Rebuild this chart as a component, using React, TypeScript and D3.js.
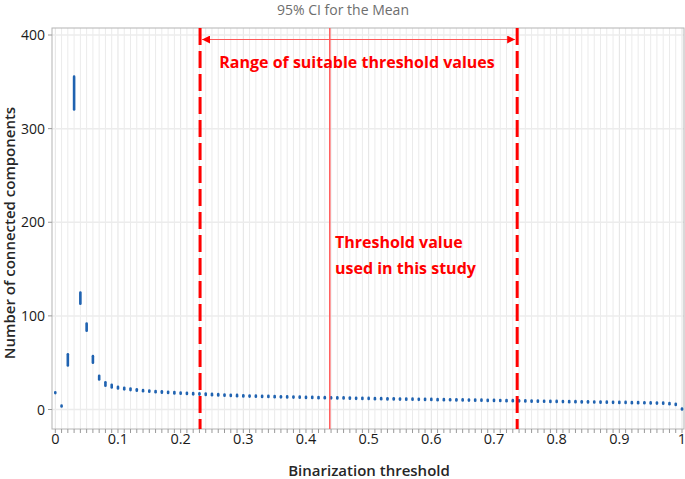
import React from "react";
import * as d3 from "d3";

const thresholds: number[] = d3.range(0, 101).map((i) => i / 100);

const means: number[] = [
  18, 3.7, 53, 338, 119, 88, 53.5, 34, 27.2, 25,
  23.3, 22.3, 21.5, 20.8, 20.2, 19.6, 19.1, 18.7, 18.3, 17.9,
  17.5, 17.2, 16.9, 16.6, 16.3, 16.0, 15.7, 15.4, 15.1, 14.9,
  14.6, 14.4, 14.2, 14.0, 13.9, 13.7, 13.6, 13.4, 13.3, 13.1,
  13.0, 12.9, 12.7, 12.6, 12.5, 12.4, 12.3, 12.2, 12.0, 11.9,
  11.8, 11.6, 11.5, 11.4, 11.3, 11.2, 11.1, 11.0, 10.9, 10.8,
  10.7, 10.6, 10.5, 10.4, 10.3, 10.2, 10.1, 10.0, 9.9, 9.8,
  9.7, 9.6, 9.5, 9.4, 9.3, 9.1, 9.0, 8.9, 8.8, 8.7,
  8.6, 8.5, 8.4, 8.3, 8.2, 8.1, 8.0, 7.9, 7.8, 7.7,
  7.6, 7.5, 7.4, 7.3, 7.2, 7.0, 6.9, 6.7, 6.3, 5.5,
  0.6,
];

const halfWidths: number[] = [
  0.5, 0.4, 6, 17.5, 6, 3.8, 3.5, 2, 1.8, 1.5,
  0.9, 0.8, 0.8, 0.8, 0.7, 0.7, 0.7, 0.7, 0.7, 0.7,
  0.7, 0.7, 0.7, 0.7, 0.7, 0.7, 0.7, 0.7, 0.7, 0.7,
  0.6, 0.6, 0.6, 0.6, 0.6, 0.6, 0.6, 0.6, 0.6, 0.6,
  0.6, 0.6, 0.6, 0.6, 0.6, 0.6, 0.6, 0.6, 0.6, 0.6,
  0.6, 0.6, 0.6, 0.6, 0.6, 0.6, 0.6, 0.6, 0.6, 0.6,
  0.6, 0.6, 0.6, 0.6, 0.6, 0.6, 0.6, 0.6, 0.6, 0.6,
  0.6, 0.6, 0.6, 0.6, 0.6, 0.6, 0.6, 0.6, 0.6, 0.6,
  0.6, 0.6, 0.6, 0.6, 0.6, 0.6, 0.6, 0.6, 0.6, 0.6,
  0.6, 0.6, 0.6, 0.6, 0.6, 0.6, 0.6, 0.6, 0.6, 0.6,
  0.5,
];

const xTickLabels: number[] = [0, 0.1, 0.2, 0.3, 0.4, 0.5, 0.6, 0.7, 0.8, 0.9, 1];
const yTickLabels: number[] = [0, 100, 200, 300, 400];

const rangeLow = 0.231;
const rangeHigh = 0.737;
const chosenThreshold = 0.438;

const title = "95% CI for the Mean";
const xTitle = "Binarization threshold";
const yTitle = "Number of connected components";
const rangeLabel = "Range of suitable threshold values";
const chosenLabel = ["Threshold value", "used in this study"];

export default function App() {
  const W = 685;
  const H = 479;
  const plotL = 52, plotR = 684, plotT = 28, plotB = 429;
  const x = d3.scaleLinear().domain([0, 1]).range([55.3, 682]);
  const y = d3.scaleLinear().domain([0, 400]).range([409.5, 35]);
  const font = "'Open Sans', 'Noto Sans', sans-serif";
  const red = "#ff0000";
  const blue = "#1f62b0";

  return (
    <svg width={W} height={H} style={{ position: "absolute", left: 0, top: 0, background: "#fff" }} fontFamily={font}>
      <defs>
        <marker id="arrR" viewBox="0 0 10 10" refX="10" refY="5" markerWidth="8" markerHeight="8" markerUnits="userSpaceOnUse" orient="auto">
          <path d="M0,0 L10,5 L0,10 z" fill={red} />
        </marker>
        <marker id="arrL" viewBox="0 0 10 10" refX="0" refY="5" markerWidth="8" markerHeight="8" markerUnits="userSpaceOnUse" orient="auto">
          <path d="M10,0 L0,5 L10,10 z" fill={red} />
        </marker>
      </defs>
      <text x={343} y={15} textAnchor="middle" fontSize={14} fill="#6e6e6e">{title}</text>

      {/* vertical grid */}
      {thresholds.map((t, i) => (
        <line key={"vg" + i} x1={x(t)} x2={x(t)} y1={plotT} y2={plotB} stroke={i % 10 === 0 ? "#e3e3e3" : "#ebebeb"} strokeWidth={1} />
      ))}
      {yTickLabels.map((v) => (
        <line key={"hg" + v} x1={plotL} x2={plotR} y1={y(v)} y2={y(v)} stroke="#ececec" strokeWidth={1.5} />
      ))}
      <rect x={plotL} y={plotT} width={plotR - plotL} height={plotB - plotT} fill="none" stroke="#b4b4b4" strokeWidth={1} />

      {/* x ticks */}
      {thresholds.map((t, i) => (
        <line key={"xt" + i} x1={x(t)} x2={x(t)} y1={plotB} y2={plotB + 4} stroke="#9a9a9a" strokeWidth={1} />
      ))}
      {xTickLabels.map((t) => (
        <text key={"xl" + t} x={x(t)} y={444} textAnchor="middle" fontSize={14.5} fill="#1a1a1a">{d3.format("")(t)}</text>
      ))}
      {yTickLabels.map((v) => (
        <g key={"yt" + v}>
          <line x1={plotL - 4} x2={plotL} y1={y(v)} y2={y(v)} stroke="#9a9a9a" strokeWidth={1} />
          <text x={45} y={y(v) + 5} textAnchor="end" fontSize={14} fill="#1a1a1a">{v}</text>
        </g>
      ))}

      <text x={369} y={476} textAnchor="middle" fontSize={15} fontWeight={600} fill="#262626">{xTitle}</text>
      <text transform={`translate(15,${233}) rotate(-90)`} textAnchor="middle" fontSize={15} fontWeight={600} fill="#262626">{yTitle}</text>

      {/* CI marks */}
      {thresholds.map((t, i) => (
        <line key={"ci" + i} x1={x(t)} x2={x(t)} y1={y(means[i] - halfWidths[i])} y2={y(means[i] + halfWidths[i])}
          stroke={blue} strokeWidth={2.6} strokeLinecap="round" />
      ))}

      {/* annotations */}
      <line x1={x(rangeLow)} x2={x(rangeLow)} y1={plotT} y2={plotB} stroke={red} strokeWidth={3} strokeDasharray="17,6" />
      <line x1={x(rangeHigh)} x2={x(rangeHigh)} y1={plotT} y2={plotB} stroke={red} strokeWidth={3} strokeDasharray="17,6" />
      <line x1={x(chosenThreshold)} x2={x(chosenThreshold)} y1={plotT} y2={plotB} stroke="#ff5a5a" strokeWidth={1.5} />
      <line x1={x(rangeLow) + 2} x2={x(rangeHigh) - 2} y1={39.5} y2={39.5} stroke="#ff5a5a" strokeWidth={1.2}
        markerStart="url(#arrL)" markerEnd="url(#arrR)" />
      <text x={357} y={68} textAnchor="middle" fontSize={16} fontWeight={700} fill={red}>{rangeLabel}</text>
      <text x={335} y={248} fontSize={16} fontWeight={700} fill={red}>{chosenLabel[0]}</text>
      <text x={335} y={274} fontSize={16} fontWeight={700} fill={red}>{chosenLabel[1]}</text>
    </svg>
  );
}
